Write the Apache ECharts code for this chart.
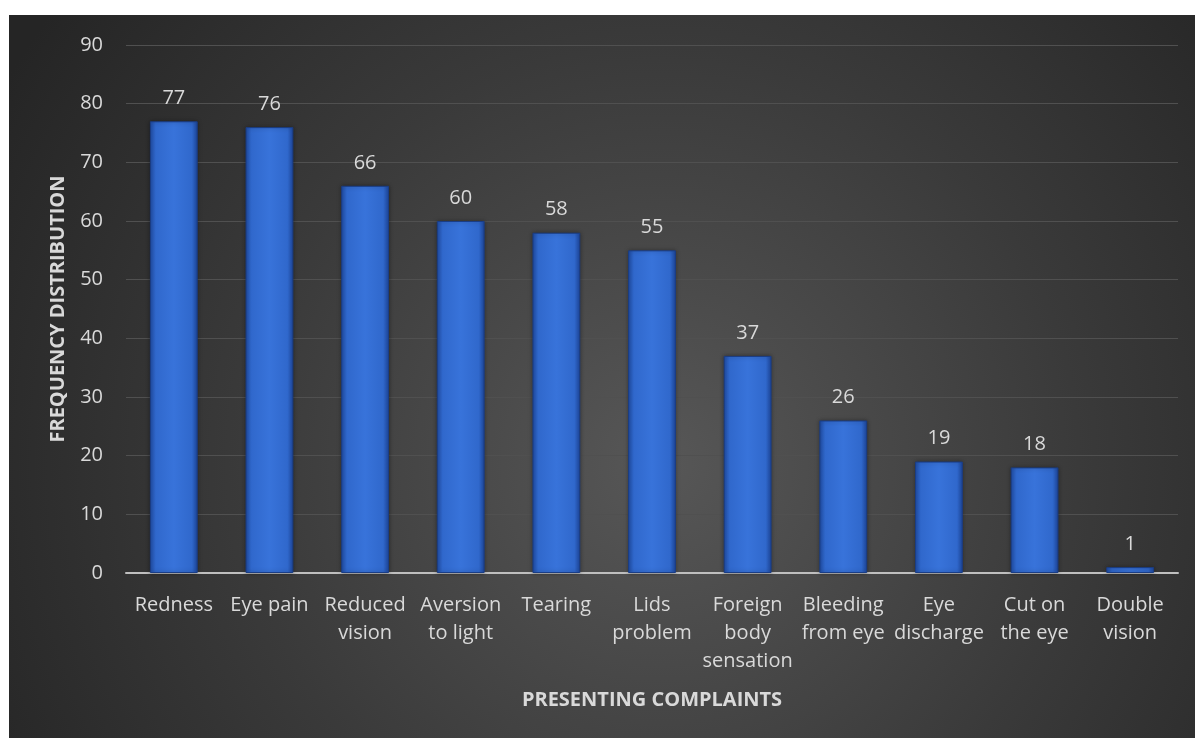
<!DOCTYPE html>
<html>
<head>
<meta charset="utf-8">
<script src="https://cdn.jsdelivr.net/npm/echarts@6/dist/echarts.min.js"></script>
<style>
html,body{margin:0;padding:0;background:#fff;}
#chart{width:1195px;height:738px;}
</style>
</head>
<body>
<div id="chart"></div>
<script>
var categories = ["Redness", "Eye pain", "Reduced\nvision", "Aversion\nto light", "Tearing", "Lids\nproblem", "Foreign\nbody\nsensation", "Bleeding\nfrom eye", "Eye\ndischarge", "Cut on\nthe eye", "Double\nvision"];
var values = [77, 76, 66, 60, 58, 55, 37, 26, 19, 18, 1];
var yTicks = [0, 10, 20, 30, 40, 50, 60, 70, 80, 90];
var yTitle = "FREQUENCY DISTRIBUTION";
var xTitle = "PRESENTING COMPLAINTS";

var FONT = "'Open Sans', sans-serif";
var chart = echarts.init(document.getElementById('chart'));
chart.setOption({
  backgroundColor: '#ffffff',
  animation: false,
  graphic: [{
    type: 'rect',
    z: -10,
    silent: true,
    shape: {x: 9, y: 15, width: 1186, height: 723},
    style: {
      fill: {
        type: 'radial', x: 0.55, y: 0.62, r: 1.05,
        colorStops: [
          {offset: 0, color: '#575757'},
          {offset: 0.55, color: '#3a3a3a'},
          {offset: 1, color: '#252525'}
        ]
      }
    }
  }, {
    type: 'text',
    x: 652,
    y: 700,
    style: {text: xTitle, fill: '#d9d9d9', font: 'bold 20px ' + FONT, textAlign: 'center', textVerticalAlign: 'middle'}
  }],
  grid: {left: 126, right: 17, top: 45, bottom: 165, containLabel: false},
  xAxis: {
    type: 'category',
    data: categories,
    axisLine: {show: true, lineStyle: {color: '#bfbfbf', width: 2}},
    axisTick: {show: false},
    axisLabel: {color: '#d9d9d9', fontSize: 20, fontFamily: FONT, lineHeight: 28, margin: 18, interval: 0}
  },
  yAxis: {
    type: 'value',
    min: yTicks[0],
    max: yTicks[yTicks.length - 1],
    interval: 10,
    name: yTitle,
    nameLocation: 'middle',
    nameGap: 58,
    nameTextStyle: {color: '#d9d9d9', fontSize: 20, fontWeight: 'bold', fontFamily: FONT},
    axisLine: {show: false},
    axisTick: {show: false},
    splitLine: {lineStyle: {color: '#505050', width: 1}},
    axisLabel: {color: '#d9d9d9', fontSize: 20, fontFamily: FONT, margin: 23}
  },
  series: [{
    type: 'bar',
    data: values,
    barWidth: '50%',
    itemStyle: {
      color: {
        type: 'linear', x: 0, y: 0, x2: 1, y2: 0,
        colorStops: [
          {offset: 0, color: '#1f4ca4'},
          {offset: 0.12, color: '#3068cc'},
          {offset: 0.5, color: '#3873da'},
          {offset: 0.88, color: '#3068cc'},
          {offset: 1, color: '#1d479e'}
        ]
      },
      borderColor: '#1a3d85',
      borderWidth: 1,
      shadowColor: 'rgba(0,0,0,0.35)',
      shadowBlur: 4
    },
    label: {
      show: true,
      position: 'top',
      distance: 13,
      color: '#d9d9d9',
      fontSize: 20,
      fontFamily: FONT
    }
  }]
});
</script>
</body>
</html>
